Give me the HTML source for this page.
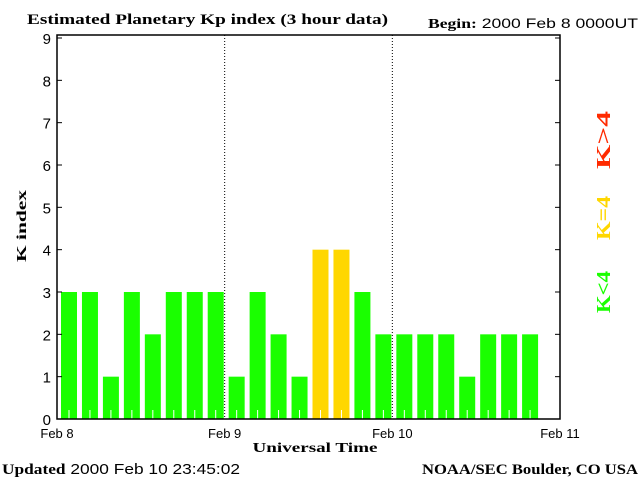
<!DOCTYPE html>
<html><head><meta charset="utf-8"><style>
body{margin:0;background:#fff;}
svg text{font-family:"Liberation Sans",sans-serif;}
.serif{font-family:"Liberation Serif",serif;font-weight:bold;}
</style></head><body>
<svg id="chart" width="640" height="480" viewBox="0 0 640 480" xmlns="http://www.w3.org/2000/svg">
<rect width="640" height="480" fill="#fff"/>
<text class="serif" x="27" y="24" font-size="15" textLength="361" lengthAdjust="spacingAndGlyphs">Estimated Planetary Kp index (3 hour data)</text>
<text x="428" y="28" font-size="14" textLength="210" lengthAdjust="spacingAndGlyphs"><tspan class="serif">Begin:</tspan> 2000 Feb 8 0000UT</text>
<g id="bars"></g>
<g id="axes"></g>
<text class="serif" font-size="14" transform="translate(26,226) rotate(-90)" text-anchor="middle" textLength="72" lengthAdjust="spacingAndGlyphs">K index</text>
<text class="serif" font-size="14" x="315" y="452" text-anchor="middle" textLength="125" lengthAdjust="spacingAndGlyphs">Universal Time</text>
<text class="serif" font-size="20" fill="#ff2a00" transform="translate(610,140) rotate(-90)" text-anchor="middle" textLength="58" lengthAdjust="spacingAndGlyphs">K&gt;4</text>
<text class="serif" font-size="20" fill="#ffd700" transform="translate(610,218) rotate(-90)" text-anchor="middle" textLength="44" lengthAdjust="spacingAndGlyphs">K=4</text>
<text class="serif" font-size="20" fill="#1aff00" transform="translate(610,292) rotate(-90)" text-anchor="middle" textLength="42" lengthAdjust="spacingAndGlyphs">K&lt;4</text>
<text x="2" y="474" font-size="15" textLength="238" lengthAdjust="spacingAndGlyphs"><tspan class="serif">Updated</tspan> 2000 Feb 10 23:45:02</text>
<text class="serif" x="422" y="474" font-size="15" textLength="216" lengthAdjust="spacingAndGlyphs">NOAA/SEC Boulder, CO USA</text>
</svg>
<script>
const kpValues = [3,3,1,3,2,3,3,3, 1,3,2,1,4,4,3,2, 2,2,2,1,2,2,2];
const yTicks = [0,1,2,3,4,5,6,7,8,9];
const dayLabels = ["Feb 8","Feb 9","Feb 10","Feb 11"];
const NS="http://www.w3.org/2000/svg";
const L=57,R=560,T=35,B=419,slots=24;
const x=i=>L+(R-L)*i/slots;
const y=v=>B-(B-38)*v/9;
const bars=document.getElementById('bars'), axes=document.getElementById('axes');
function mk(tag,attrs,parent){const e=document.createElementNS(NS,tag);for(const k in attrs)e.setAttribute(k,attrs[k]);parent.appendChild(e);return e;}
kpValues.forEach((v,i)=>{
  const col=v>4?"#ff2a00":(v==4?"#ffd700":"#1aff00");
  const r=mk('rect',{x:x(i)+4,y:y(v),width:16,height:B-y(v),fill:col},bars);
  
  
  const t=mk('line',{x1:x(i)+12,x2:x(i)+12,y1:B-9,y2:B,stroke:"#fff","stroke-width":1},bars);
  
  
});
const frame=mk('rect',{x:L,y:T,width:R-L,height:B-T,fill:"none",stroke:"#000","stroke-width":1.5},axes);


yTicks.forEach(v=>{
  mk('line',{x1:L,x2:L+5,y1:y(v),y2:y(v),stroke:"#000"},axes);
  mk('line',{x1:R-5,x2:R,y1:y(v),y2:y(v),stroke:"#000"},axes);
  const t=mk('text',{x:L-6,y:y(v)+6,"font-size":15,"text-anchor":"end"},axes);
  t.textContent=v;
  
  
});
dayLabels.forEach((d,i)=>{
  const xx=x(i*8);
  if(i>0&&i<3){
    const dl=mk('line',{x1:xx,x2:xx,y1:T,y2:B,stroke:"#000","stroke-dasharray":"1,2"},axes);
    
    
  }
  const t=mk('text',{x:xx,y:438,"font-size":13,"text-anchor":"middle"},axes);
  t.textContent=d;
  
  
});
</script>
</body></html>
